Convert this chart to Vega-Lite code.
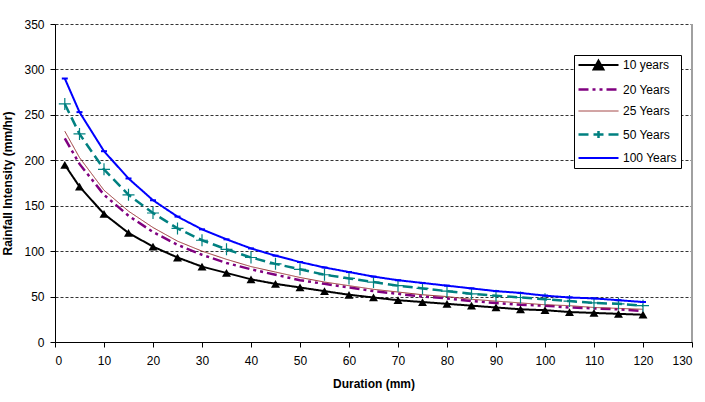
{
  "$schema": "https://vega.github.io/schema/vega-lite/v6.json",
  "autosize": "none",
  "width": 637,
  "height": 318,
  "padding": {"left": 55, "top": 24, "right": 13, "bottom": 60},
  "background": "white",
  "config": {
    "view": {"stroke": null},
    "font": "Liberation Sans",
    "axis": {
      "labelFont": "Liberation Sans",
      "labelFontSize": 12,
      "labelColor": "black",
      "titleFont": "Liberation Sans",
      "titleFontSize": 12,
      "titleFontWeight": "bold",
      "titleColor": "black",
      "domainColor": "black",
      "tickColor": "black",
      "tickSize": 5
    }
  },
  "data": {
    "values": [
      {"d": 2, "s": "10 years", "v": 195}, {"d": 5, "s": "10 years", "v": 171}, {"d": 10, "s": "10 years", "v": 141}, {"d": 15, "s": "10 years", "v": 120}, {"d": 20, "s": "10 years", "v": 105}, {"d": 25, "s": "10 years", "v": 93}, {"d": 30, "s": "10 years", "v": 83}, {"d": 35, "s": "10 years", "v": 76}, {"d": 40, "s": "10 years", "v": 69}, {"d": 45, "s": "10 years", "v": 64}, {"d": 50, "s": "10 years", "v": 60}, {"d": 55, "s": "10 years", "v": 56}, {"d": 60, "s": "10 years", "v": 52}, {"d": 65, "s": "10 years", "v": 49}, {"d": 70, "s": "10 years", "v": 46}, {"d": 75, "s": "10 years", "v": 44}, {"d": 80, "s": "10 years", "v": 42}, {"d": 85, "s": "10 years", "v": 40}, {"d": 90, "s": "10 years", "v": 38}, {"d": 95, "s": "10 years", "v": 36}, {"d": 100, "s": "10 years", "v": 35}, {"d": 105, "s": "10 years", "v": 33}, {"d": 110, "s": "10 years", "v": 32}, {"d": 115, "s": "10 years", "v": 31}, {"d": 120, "s": "10 years", "v": 30},
      {"d": 2, "s": "20 Years", "v": 224}, {"d": 5, "s": "20 Years", "v": 196}, {"d": 10, "s": "20 Years", "v": 162}, {"d": 15, "s": "20 Years", "v": 139}, {"d": 20, "s": "20 Years", "v": 121}, {"d": 25, "s": "20 Years", "v": 107}, {"d": 30, "s": "20 Years", "v": 96}, {"d": 35, "s": "20 Years", "v": 87}, {"d": 40, "s": "20 Years", "v": 80}, {"d": 45, "s": "20 Years", "v": 74}, {"d": 50, "s": "20 Years", "v": 68}, {"d": 55, "s": "20 Years", "v": 64}, {"d": 60, "s": "20 Years", "v": 60}, {"d": 65, "s": "20 Years", "v": 56}, {"d": 70, "s": "20 Years", "v": 53}, {"d": 75, "s": "20 Years", "v": 50}, {"d": 80, "s": "20 Years", "v": 48}, {"d": 85, "s": "20 Years", "v": 45}, {"d": 90, "s": "20 Years", "v": 43}, {"d": 95, "s": "20 Years", "v": 41}, {"d": 100, "s": "20 Years", "v": 40}, {"d": 105, "s": "20 Years", "v": 38}, {"d": 110, "s": "20 Years", "v": 37}, {"d": 115, "s": "20 Years", "v": 36}, {"d": 120, "s": "20 Years", "v": 34},
      {"d": 2, "s": "25 Years", "v": 232}, {"d": 5, "s": "25 Years", "v": 203}, {"d": 10, "s": "25 Years", "v": 167}, {"d": 15, "s": "25 Years", "v": 144}, {"d": 20, "s": "25 Years", "v": 126}, {"d": 25, "s": "25 Years", "v": 111}, {"d": 30, "s": "25 Years", "v": 100}, {"d": 35, "s": "25 Years", "v": 91}, {"d": 40, "s": "25 Years", "v": 83}, {"d": 45, "s": "25 Years", "v": 77}, {"d": 50, "s": "25 Years", "v": 71}, {"d": 55, "s": "25 Years", "v": 66}, {"d": 60, "s": "25 Years", "v": 62}, {"d": 65, "s": "25 Years", "v": 58}, {"d": 70, "s": "25 Years", "v": 55}, {"d": 75, "s": "25 Years", "v": 52}, {"d": 80, "s": "25 Years", "v": 50}, {"d": 85, "s": "25 Years", "v": 47}, {"d": 90, "s": "25 Years", "v": 45}, {"d": 95, "s": "25 Years", "v": 43}, {"d": 100, "s": "25 Years", "v": 41}, {"d": 105, "s": "25 Years", "v": 40}, {"d": 110, "s": "25 Years", "v": 38}, {"d": 115, "s": "25 Years", "v": 37}, {"d": 120, "s": "25 Years", "v": 36},
      {"d": 2, "s": "50 Years", "v": 262}, {"d": 5, "s": "50 Years", "v": 229}, {"d": 10, "s": "50 Years", "v": 190}, {"d": 15, "s": "50 Years", "v": 162}, {"d": 20, "s": "50 Years", "v": 142}, {"d": 25, "s": "50 Years", "v": 125}, {"d": 30, "s": "50 Years", "v": 112}, {"d": 35, "s": "50 Years", "v": 102}, {"d": 40, "s": "50 Years", "v": 93}, {"d": 45, "s": "50 Years", "v": 86}, {"d": 50, "s": "50 Years", "v": 80}, {"d": 55, "s": "50 Years", "v": 74}, {"d": 60, "s": "50 Years", "v": 70}, {"d": 65, "s": "50 Years", "v": 66}, {"d": 70, "s": "50 Years", "v": 62}, {"d": 75, "s": "50 Years", "v": 59}, {"d": 80, "s": "50 Years", "v": 56}, {"d": 85, "s": "50 Years", "v": 53}, {"d": 90, "s": "50 Years", "v": 51}, {"d": 95, "s": "50 Years", "v": 49}, {"d": 100, "s": "50 Years", "v": 47}, {"d": 105, "s": "50 Years", "v": 45}, {"d": 110, "s": "50 Years", "v": 43}, {"d": 115, "s": "50 Years", "v": 42}, {"d": 120, "s": "50 Years", "v": 40},
      {"d": 2, "s": "100 Years", "v": 290}, {"d": 5, "s": "100 Years", "v": 253}, {"d": 10, "s": "100 Years", "v": 210}, {"d": 15, "s": "100 Years", "v": 180}, {"d": 20, "s": "100 Years", "v": 156}, {"d": 25, "s": "100 Years", "v": 138}, {"d": 30, "s": "100 Years", "v": 124}, {"d": 35, "s": "100 Years", "v": 113}, {"d": 40, "s": "100 Years", "v": 103}, {"d": 45, "s": "100 Years", "v": 95}, {"d": 50, "s": "100 Years", "v": 88}, {"d": 55, "s": "100 Years", "v": 82}, {"d": 60, "s": "100 Years", "v": 77}, {"d": 65, "s": "100 Years", "v": 72}, {"d": 70, "s": "100 Years", "v": 68}, {"d": 75, "s": "100 Years", "v": 65}, {"d": 80, "s": "100 Years", "v": 62}, {"d": 85, "s": "100 Years", "v": 59}, {"d": 90, "s": "100 Years", "v": 56}, {"d": 95, "s": "100 Years", "v": 54}, {"d": 100, "s": "100 Years", "v": 51}, {"d": 105, "s": "100 Years", "v": 49}, {"d": 110, "s": "100 Years", "v": 48}, {"d": 115, "s": "100 Years", "v": 46}, {"d": 120, "s": "100 Years", "v": 44}
    ]
  },
  "encoding": {
    "x": {
      "field": "d", "type": "quantitative",
      "scale": {"domain": [0, 130], "nice": false, "zero": false},
      "axis": {"values": [0,10,20,30,40,50,60,70,80,90,100,110,120,130], "grid": false, "title": "Duration (mm)", "labelPadding": 8, "titlePadding": 12}
    },
    "y": {
      "field": "v", "type": "quantitative",
      "scale": {"domain": [0, 350], "nice": false},
      "axis": {"values": [0,50,100,150,200,250,300,350], "grid": true, "gridColor": "#333333", "gridDash": [3, 2], "gridWidth": 1, "title": "Rainfall Intensity (mm/hr)", "labelPadding": 6, "titlePadding": 9}
    }
  },
  "layer": [
    {
      "mark": {"type": "rule", "color": "#a0a0a0", "strokeWidth": 1.5},
      "encoding": {"x": {"datum": 130}, "y": {"datum": 0}, "y2": {"datum": 350}}
    },
    {
      "mark": {"type": "line", "clip": true},
      "encoding": {
        "color": {
          "field": "s", "type": "nominal",
          "scale": {"domain": ["10 years", "20 Years", "25 Years", "50 Years", "100 Years"], "range": ["#000000", "#800080", "#993333", "#008080", "#0000ff"]},
          "legend": {
            "title": null,
            "orient": "none",
            "legendX": 519,
            "legendY": 31,
            "padding": 4,
            "strokeColor": "black",
            "fillColor": "white",
            "labelFont": "Liberation Sans",
            "labelFontSize": 12,
            "labelColor": "black",
            "symbolSize": 100,
            "symbolOffset": 14,
            "labelOffset": 18,
            "rowPadding": 9,
            "encode": {
              "symbols": {
                "update": {
                  "shape": {"signal": "datum.value === '10 years' ? 'M-4,0H4M-1,0.9L0,-0.9L1,0.9Z' : datum.value === '50 Years' ? 'M-4,0H4M0,-0.7V0.7' : 'M-4,0H4'"},
                  "fill": {"signal": "datum.value === '10 years' ? 'black' : 'transparent'"},
                  "strokeDash": {"signal": "datum.value === '20 Years' ? [10,4,3,4,3,4] : datum.value === '50 Years' ? [10,5] : [1,0]"},
                  "strokeWidth": {"signal": "datum.value === '25 Years' ? 1 : datum.value === '10 years' ? 2 : datum.value === '100 Years' ? 2 : 2.5"},
                  "opacity": {"value": 1}
                }
              }
            }
          }
        },
        "strokeDash": {
          "field": "s", "type": "nominal",
          "scale": {"domain": ["10 years", "20 Years", "25 Years", "50 Years", "100 Years"], "range": [[1, 0], [10, 4, 3, 4, 3, 4], [1, 0], [10, 5], [1, 0]]},
          "legend": null
        },
        "strokeWidth": {
          "field": "s", "type": "nominal",
          "scale": {"type": "ordinal", "domain": ["10 years", "20 Years", "25 Years", "50 Years", "100 Years"], "range": [2, 2.5, 1, 2.5, 2]},
          "legend": null
        }
      }
    },
    {
      "transform": [{"filter": "datum.s === '10 years'"}],
      "mark": {"type": "point", "shape": "triangle-up", "filled": true, "color": "black", "size": 80, "opacity": 1}
    },
    {
      "transform": [{"filter": "datum.s === '50 Years'"}],
      "mark": {"type": "point", "shape": "M-1,0H1M0,-1V1", "filled": false, "color": "#008080", "size": 144, "strokeWidth": 1.2, "opacity": 1}
    },
    {
      "transform": [{"filter": "datum.s === '100 Years'"}],
      "mark": {"type": "point", "shape": "M-1,0H1", "filled": false, "color": "#0000ff", "size": 36, "strokeWidth": 2, "opacity": 1}
    }
  ]
}
